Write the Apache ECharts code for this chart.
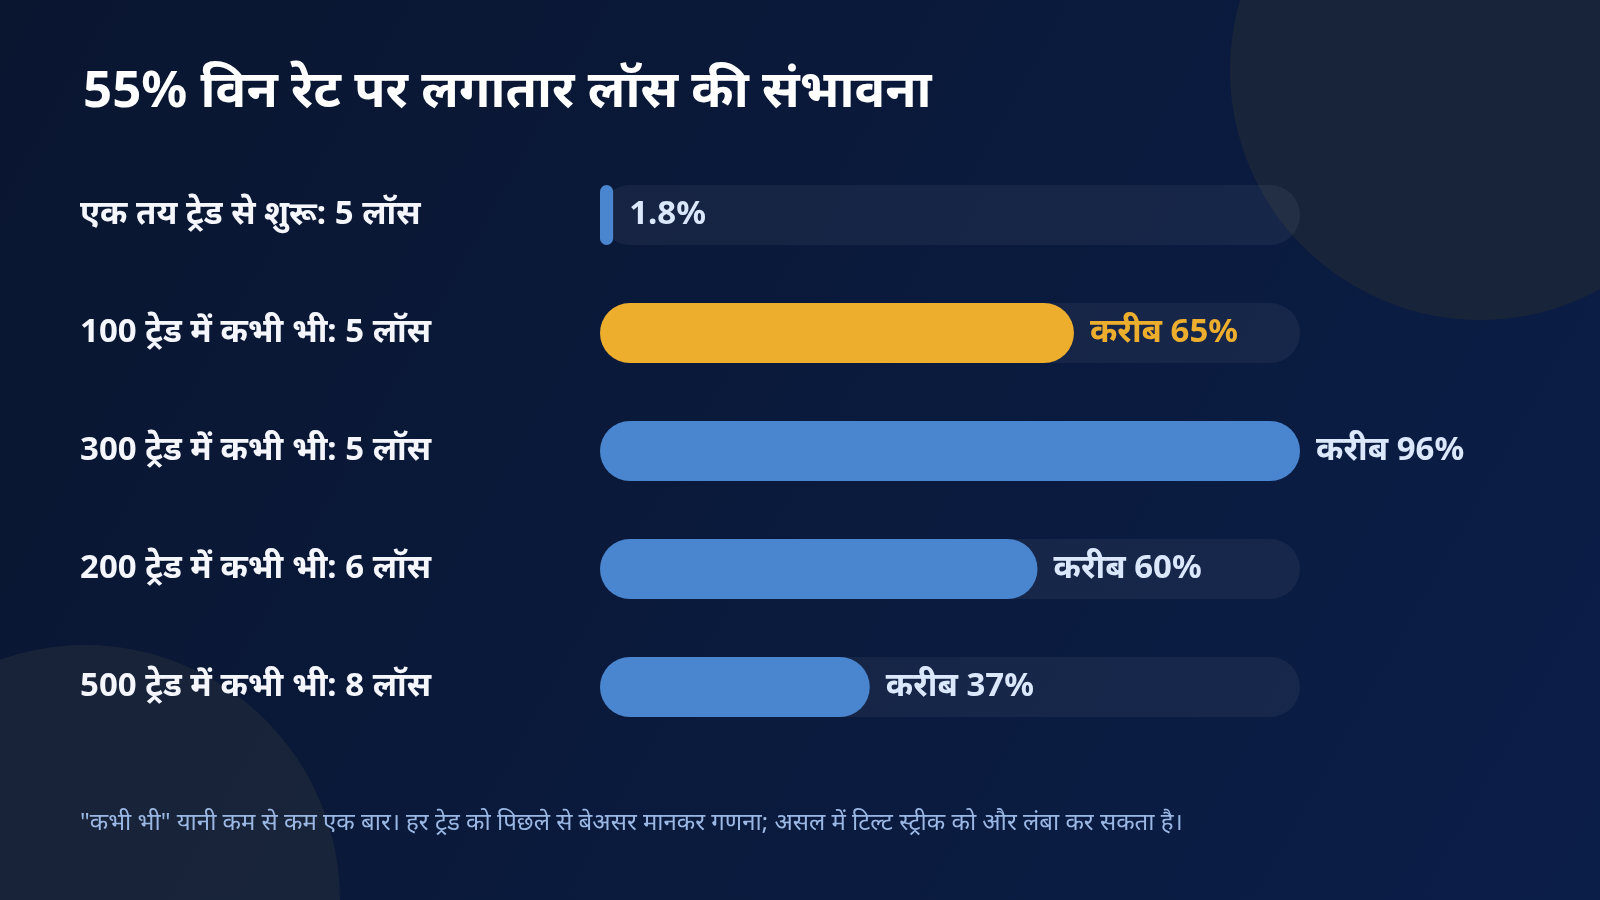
<!DOCTYPE html>
<html>
<head>
<meta charset="utf-8">
<title>लगातार लॉस की संभावना</title>
<script src="https://cdn.jsdelivr.net/npm/echarts@6/dist/echarts.min.js"></script>
<style>
  html, body { margin: 0; padding: 0; background: #0a1833; }
  #chart { width: 1600px; height: 900px; }
</style>
</head>
<body>
<div id="chart"></div>
<script>
// data
const categories = [
    'एक तय ट्रेड से शुरू: 5 लॉस',
    '100 ट्रेड में कभी भी: 5 लॉस',
    '300 ट्रेड में कभी भी: 5 लॉस',
    '200 ट्रेड में कभी भी: 6 लॉस',
    '500 ट्रेड में कभी भी: 8 लॉस',
]
const values = [1.8, 65, 96, 60, 37]
const valueLabels = ['1.8%', 'करीब 65%', 'करीब 96%', 'करीब 60%', 'करीब 37%']
const highlightIndex = 1

const FONT = '"Noto Sans", "DejaVu Sans", sans-serif'
const BLUE = '#4a86cf'
const ORANGE = '#edae2e'

const chart = echarts.init(document.getElementById('chart'))

const option = {
    backgroundColor: {
        type: 'linear', x: 0, y: 0, x2: 1, y2: 1,
        colorStops: [
            { offset: 0, color: '#0a1630' },
            { offset: 1, color: '#0b1e48' },
        ],
    },
    textStyle: { fontFamily: FONT },
    title: {
        text: '55% विन रेट पर लगातार लॉस की संभावना',
        left: 78,
        top: 62,
        textStyle: { color: '#ffffff', fontSize: 51, fontWeight: 'bold', fontFamily: FONT },
    },
    graphic: [
        {
            type: 'circle', z: 0, silent: true,
            shape: { cx: 1480, cy: 70, r: 250 },
            style: { fill: '#1a2539', opacity: 0.92 },
        },
        {
            type: 'circle', z: 0, silent: true,
            shape: { cx: 85, cy: 900, r: 255 },
            style: { fill: '#1a2539', opacity: 0.92 },
        },
        {
            type: 'text', z: 5, left: 80, top: 811,
            style: {
                text: '"कभी भी" यानी कम से कम एक बार। हर ट्रेड को पिछले से बेअसर मानकर गणना; असल में टिल्ट स्ट्रीक को और लंबा कर सकता है।',
                fill: '#9bb8e4',
                font: '24px ' + FONT,
            },
        },
    ],
    grid: { left: 600, right: 300, top: 156, bottom: 154 },
    xAxis: {
        type: 'value',
        min: 0,
        max: 96,
        show: false,
    },
    yAxis: {
        type: 'category',
        inverse: true,
        data: categories,
        axisLine: { show: false },
        axisTick: { show: false },
        splitLine: { show: false },
        axisLabel: {
            align: 'left',
            margin: 520,
            lineHeight: 40,
            padding: [6, 0, 0, 0],
            color: '#f4f6fb',
            fontSize: 33,
            fontWeight: 'bold',
            fontFamily: FONT,
        },
    },
    series: [
        {
            type: 'bar',
            barWidth: 60,
            showBackground: true,
            backgroundStyle: { color: 'rgba(255, 255, 255, 0.05)', borderRadius: 30 },
            itemStyle: { color: BLUE, borderRadius: 30 },
            label: {
                show: true,
                position: 'right',
                distance: 16,
                lineHeight: 40,
                padding: [6, 0, 0, 0],
                fontSize: 33,
                fontWeight: 'bold',
                fontFamily: FONT,
                color: '#dbe7fb',
                formatter: (p) => valueLabels[p.dataIndex],
            },
            data: values.map((v, i) => i === highlightIndex
                ? { value: v, itemStyle: { color: ORANGE }, label: { color: ORANGE } }
                : v),
        },
    ],
}

chart.setOption(option)
window.addEventListener('resize', () => chart.resize())
</script>
</body>
</html>
